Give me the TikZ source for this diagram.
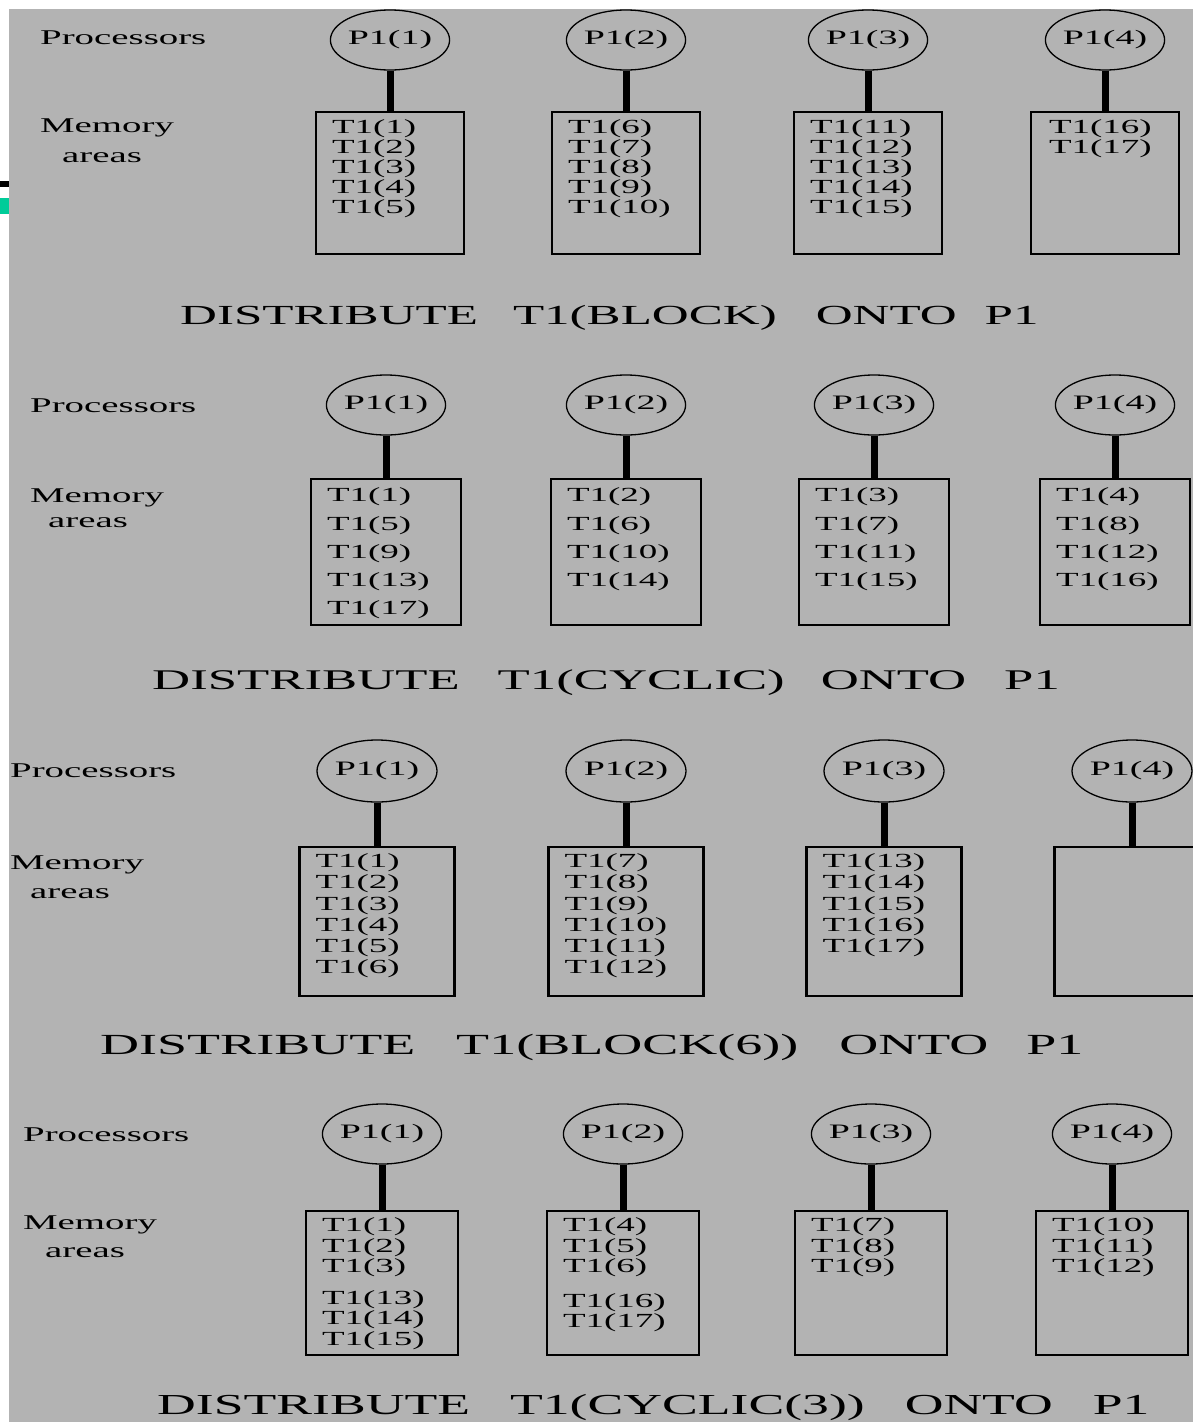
\documentclass[tikz,border=0pt]{standalone}
\usepackage{fontspec}
\setmainfont{Liberation Serif}[FakeStretch=1.85]
\usetikzlibrary{positioning, shapes.geometric}
\definecolor{slidegray}{RGB}{179,179,179}
\definecolor{markgreen}{RGB}{0,204,153}

\begin{document}
\begin{tikzpicture}[x=1pt, y=-1pt,
  proc/.style={ellipse, draw, line width=1.3pt, minimum width=117pt,
    minimum height=60pt, inner sep=0pt, font=\fontsize{20.5}{20.5}\selectfont},
  mem/.style={draw, line width=2.4pt, inner sep=0pt},
  stem/.style={line width=7pt},
  items/.style={anchor=north west, inner sep=0pt, align=left,
    font=\fontsize{20}{#1}\selectfont},
  lbl/.style={anchor=base west, inner sep=0pt, font=\fontsize{21}{21}\selectfont},
  headline/.style={anchor=base west, inner sep=0pt, font=\fontsize{#1}{#1}\selectfont},
]
  \useasboundingbox (0,0) rectangle (1193,1422);
  % slide background and the two marks on the left edge
  \fill[white] (0,0) rectangle (1193,1422);
  \fill[slidegray] (9,9) rectangle (1193,1422);
  \fill (0,181) rectangle (9,187);
  \fill[markgreen] (0,198) rectangle (9,214);

  % ---- BLOCK ----
  \node[lbl] (proc1) at (40,44) {Processors};
  \node[lbl] (memo1) at (40,132) {Memory};
  \node[lbl] (area1) at (62,162) {areas};
  \node[proc] (p11) at (390,40) {P1(1)};
  \node[proc] (p12) at (626,40) {P1(2)};
  \node[proc] (p13) at (868,40) {P1(3)};
  \node[proc] (p14) at (1105,40) {P1(4)};
  \foreach \i in {1,...,4} {
    \node[mem, minimum width=148pt, minimum height=142pt, below=40pt of p1\i] (m1\i) {};
    \draw[stem] (p1\i) -- (m1\i);
  }
  \node[items=20pt, below right=9pt and 17pt of m11.north west] (t11) {T1(1)\\T1(2)\\T1(3)\\T1(4)\\T1(5)};
  \node[items=20pt, below right=9pt and 17pt of m12.north west] (t12) {T1(6)\\T1(7)\\T1(8)\\T1(9)\\T1(10)};
  \node[items=20pt, below right=9pt and 17pt of m13.north west] (t13) {T1(11)\\T1(12)\\T1(13)\\T1(14)\\T1(15)};
  \node[items=20pt, below right=9pt and 19pt of m14.north west] (t14) {T1(16)\\T1(17)};
  \node[headline=27.6] (head1) at (180,324)
    {DISTRIBUTE\hspace{35pt}T1(BLOCK)\hspace{39pt}ONTO\hspace{28pt}P1};

  % ---- CYCLIC ----
  \node[lbl] (proc2) at (30,412) {Processors};
  \node[lbl] (memo2) at (30,502) {Memory};
  \node[lbl] (area2) at (48,527) {areas};
  \node[proc] (p21) at (386,405) {P1(1)};
  \node[proc] (p22) at (626,405) {P1(2)};
  \node[proc] (p23) at (874,405) {P1(3)};
  \node[proc] (p24) at (1115,405) {P1(4)};
  \foreach \i in {1,...,4} {
    \node[mem, minimum width=150pt, minimum height=146pt, below=42pt of p2\i] (m2\i) {};
    \draw[stem] (p2\i) -- (m2\i);
  }
  \node[items=28.3pt, below right=10pt and 17pt of m21.north west] (t21) {T1(1)\\T1(5)\\T1(9)\\T1(13)\\T1(17)};
  \node[items=28.3pt, below right=10pt and 17pt of m22.north west] (t22) {T1(2)\\T1(6)\\T1(10)\\T1(14)};
  \node[items=28.3pt, below right=10pt and 17pt of m23.north west] (t23) {T1(3)\\T1(7)\\T1(11)\\T1(15)};
  \node[items=28.3pt, below right=10pt and 17pt of m24.north west] (t24) {T1(4)\\T1(8)\\T1(12)\\T1(16)};
  \node[headline=28.5] (head2) at (152,689)
    {DISTRIBUTE\hspace{38pt}T1(CYCLIC)\hspace{36pt}ONTO\hspace{38pt}P1};

  % ---- BLOCK(6) ----
  \node[lbl] (proc3) at (10,777) {Processors};
  \node[lbl] (memo3) at (10,869) {Memory};
  \node[lbl] (area3) at (30,898) {areas};
  \node[proc, minimum width=120pt, minimum height=62pt] (p31) at (377,771) {P1(1)};
  \node[proc, minimum width=120pt, minimum height=62pt] (p32) at (626,771) {P1(2)};
  \node[proc, minimum width=120pt, minimum height=62pt] (p33) at (884,771) {P1(3)};
  \node[proc, minimum width=120pt, minimum height=62pt] (p34) at (1132,771) {P1(4)};
  \foreach \i in {1,...,4} {
    \node[mem, minimum width=155pt, minimum height=149pt, below=43pt of p3\i] (m3\i) {};
    \draw[stem] (p3\i) -- (m3\i);
  }
  \node[items=21.2pt, below right=8pt and 17pt of m31.north west] (t31) {T1(1)\\T1(2)\\T1(3)\\T1(4)\\T1(5)\\T1(6)};
  \node[items=21.2pt, below right=8pt and 17pt of m32.north west] (t32) {T1(7)\\T1(8)\\T1(9)\\T1(10)\\T1(11)\\T1(12)};
  \node[items=21.2pt, below right=8pt and 17pt of m33.north west] (t33) {T1(13)\\T1(14)\\T1(15)\\T1(16)\\T1(17)};
  \node[headline=29.2] (head3) at (100,1054)
    {DISTRIBUTE\hspace{41pt}T1(BLOCK(6))\hspace{41pt}ONTO\hspace{38pt}P1};

  % ---- CYCLIC(3) ----
  \node[lbl] (proc4) at (23,1141) {Processors};
  \node[lbl] (memo4) at (23,1229) {Memory};
  \node[lbl] (area4) at (45,1257) {areas};
  \node[proc] (p41) at (382,1134) {P1(1)};
  \node[proc] (p42) at (623,1134) {P1(2)};
  \node[proc] (p43) at (871,1134) {P1(3)};
  \node[proc] (p44) at (1112,1134) {P1(4)};
  \foreach \i in {1,...,4} {
    \node[mem, minimum width=152pt, minimum height=144pt, below=45pt of p4\i] (m4\i) {};
    \draw[stem] (p4\i) -- (m4\i);
  }
  \node[items=20.5pt, below right=8pt and 17pt of m41.north west] (t41) {T1(1)\\T1(2)\\T1(3)\\[11pt]T1(13)\\T1(14)\\T1(15)};
  \node[items=20.5pt, below right=8pt and 17pt of m42.north west] (t42) {T1(4)\\T1(5)\\T1(6)\\[14pt]T1(16)\\T1(17)};
  \node[items=20.5pt, below right=8pt and 17pt of m43.north west] (t43) {T1(7)\\T1(8)\\T1(9)};
  \node[items=20.5pt, below right=8pt and 17pt of m44.north west] (t44) {T1(10)\\T1(11)\\T1(12)};
  \node[headline=29] (head4) at (157,1414)
    {DISTRIBUTE\hspace{40pt}T1(CYCLIC(3))\hspace{40pt}ONTO\hspace{40pt}P1};
\end{tikzpicture}
\end{document}
